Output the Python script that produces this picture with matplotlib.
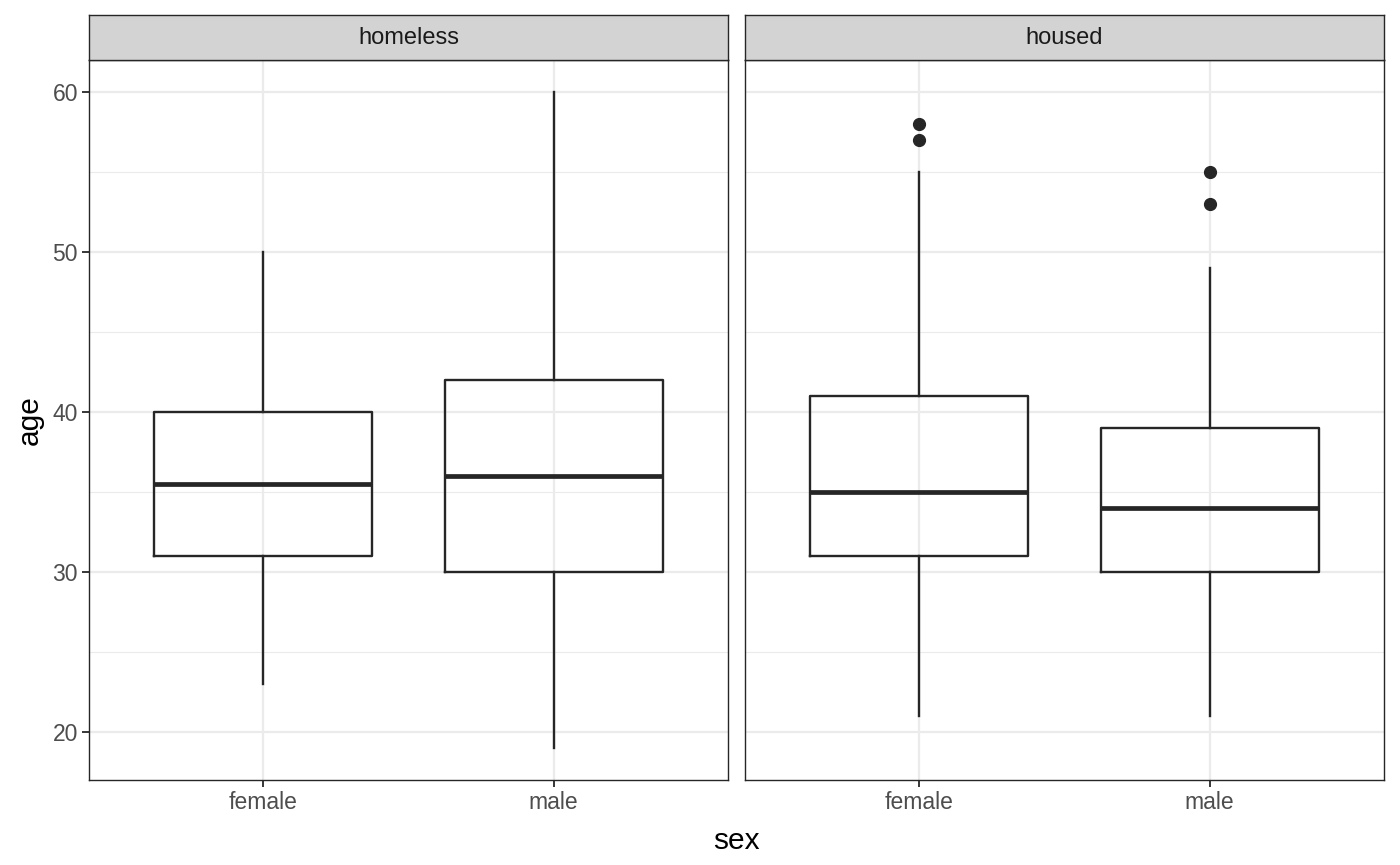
import matplotlib
matplotlib.use("Agg")
import matplotlib.pyplot as plt

plt.rcParams["font.family"] = ["Liberation Sans", "DejaVu Sans"]

# five-number summaries, per facet
facets = ["homeless", "housed"]
sexes = ["female", "male"]
whislo = {"homeless": [23, 19], "housed": [21, 21]}
q1 = {"homeless": [31, 30], "housed": [31, 30]}
med = {"homeless": [35.5, 36], "housed": [35, 34]}
q3 = {"homeless": [40, 42], "housed": [41, 39]}
whishi = {"homeless": [50, 60], "housed": [55, 49]}
fliers = {"homeless": [[], []], "housed": [[57, 58], [53, 55]]}

DARK = "#262626"
GRID = "#EBEBEB"

fig = plt.figure(figsize=(14, 8.65), dpi=100)
left0, w, gap = 89 / 1400, 639 / 1400, 17 / 1400
bottom, top = 1 - 780 / 865, 1 - 60 / 865
strip_h = 45 / 865

axes = []
for i, facet in enumerate(facets):
    x0 = left0 + i * (w + gap)
    ax = fig.add_axes([x0, bottom, w, top - bottom])
    axes.append(ax)
    stats = []
    for j in range(len(sexes)):
        stats.append(dict(whislo=whislo[facet][j], q1=q1[facet][j], med=med[facet][j],
                          q3=q3[facet][j], whishi=whishi[facet][j],
                          fliers=fliers[facet][j]))
    ax.bxp(stats, positions=[1, 2], widths=0.75, showcaps=False, zorder=3,
           boxprops=dict(color=DARK, linewidth=1.7),
           whiskerprops=dict(color=DARK, linewidth=1.7),
           medianprops=dict(color=DARK, linewidth=3.4, solid_capstyle="butt"),
           flierprops=dict(marker="o", markerfacecolor=DARK, markeredgecolor=DARK,
                           markersize=8.5))
    ax.set_xlim(0.4, 2.6)
    ax.set_ylim(17, 62)
    ax.set_xticks([1, 2])
    ax.set_xticklabels(sexes)
    ax.set_yticks([20, 30, 40, 50, 60])
    ax.set_yticks([25, 35, 45, 55], minor=True)
    ax.grid(which="major", color=GRID, linewidth=1.6, zorder=0)
    ax.grid(which="minor", axis="y", color=GRID, linewidth=0.8, zorder=0)
    ax.set_axisbelow(True)
    ax.tick_params(axis="both", which="major", length=5, width=1.3, color=DARK,
                   labelsize=16.5, labelcolor="#4D4D4D", pad=3)
    ax.tick_params(axis="y", which="minor", length=0)
    if i > 0:
        ax.tick_params(axis="y", labelleft=False, left=False)
    for s in ax.spines.values():
        s.set_color(DARK)
        s.set_linewidth(1.0)

    # facet strip
    sax = fig.add_axes([x0, top, w, strip_h])
    sax.set_facecolor("#D3D3D3")
    sax.set_xticks([])
    sax.set_yticks([])
    for s in sax.spines.values():
        s.set_color(DARK)
        s.set_linewidth(1.0)
    sax.text(0.5, 0.5, facet, ha="center", va="center", fontsize=17,
             color="#1A1A1A", transform=sax.transAxes)

axes[0].set_ylabel("age", fontsize=21.5, labelpad=6)
fig.text(left0 + w + gap / 2, 0.012, "sex", ha="center", va="bottom", fontsize=21.5)

fig.savefig("out.png", dpi=100)
